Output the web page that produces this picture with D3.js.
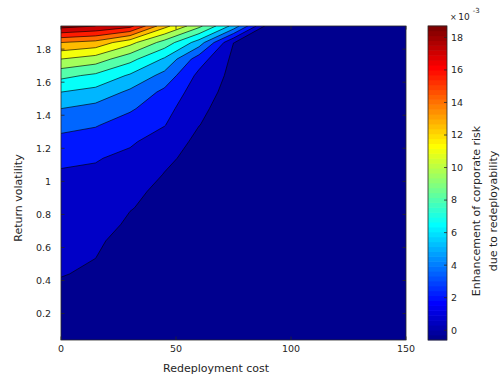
<!DOCTYPE html>
<html><head><meta charset="utf-8">
<script src="https://cdn.jsdelivr.net/npm/d3@7"></script>
<style>body{margin:0;background:#fff} svg{display:block;font-family:"DejaVu Sans",sans-serif}</style>
</head><body><svg id="c" width="500" height="380"></svg>
<script>
// ---- data (enhancement of corporate risk, units of 1e-3) ----
const costs = [0, 15, 30, 45, 60, 75, 90, 105, 120, 135, 150];
const vols = [0.04, 0.14, 0.24, 0.34, 0.44, 0.54, 0.64, 0.74, 0.84, 0.94, 1.04, 1.14, 1.24, 1.34, 1.44, 1.54, 1.64, 1.74, 1.84, 1.94];
// one row per volatility (bottom to top), one value per cost
const risk004 = [-0.6, -0.6, -0.6, -0.6, -0.6, -0.6, -0.6, -0.6, -0.6, -0.6, -0.6];
const risk014 = [-0.5, -0.5, -0.55, -0.55, -0.6, -0.6, -0.6, -0.6, -0.6, -0.6, -0.6];
const risk024 = [-0.35, -0.4, -0.5, -0.55, -0.55, -0.6, -0.6, -0.6, -0.6, -0.6, -0.6];
const risk034 = [-0.2, -0.25, -0.5, -0.5, -0.55, -0.6, -0.6, -0.6, -0.6, -0.6, -0.6];
const risk044 = [0.05, -0.15, -0.5, -0.5, -0.55, -0.6, -0.6, -0.6, -0.6, -0.6, -0.6];
const risk054 = [0.3, 0.01, -0.5, -0.5, -0.5, -0.55, -0.55, -0.6, -0.6, -0.6, -0.6];
const risk064 = [0.55, 0.2, -0.47, -0.45, -0.5, -0.55, -0.55, -0.6, -0.6, -0.6, -0.6];
const risk074 = [0.75, 0.5, -0.18, -0.45, -0.5, -0.55, -0.55, -0.6, -0.6, -0.6, -0.6];
const risk084 = [0.95, 0.75, 0.05, -0.33, -0.5, -0.55, -0.5, -0.55, -0.6, -0.6, -0.6];
const risk094 = [1.15, 1.0, 0.3, -0.3, -0.45, -0.55, -0.5, -0.55, -0.6, -0.6, -0.6];
const risk104 = [1.35, 1.25, 0.75, -0.05, -0.45, -0.55, -0.5, -0.55, -0.55, -0.6, -0.6];
const risk114 = [1.75, 1.6, 1.15, 0.25, -0.43, -0.55, -0.5, -0.55, -0.55, -0.6, -0.6];
const risk124 = [2.6, 2.3, 1.7, 0.8, -0.34, -0.55, -0.45, -0.5, -0.55, -0.55, -0.6];
const risk134 = [3.4, 3.1, 2.3, 1.55, 0.02, -0.58, -0.45, -0.5, -0.55, -0.55, -0.6];
const risk144 = [4.5, 4.0, 3.2, 2.05, 0.25, -0.58, -0.45, -0.5, -0.5, -0.55, -0.55];
const risk154 = [6.0, 5.5, 4.2, 2.65, 0.7, -0.58, -0.4, -0.5, -0.5, -0.55, -0.55];
const risk164 = [7.9, 7.2, 5.8, 4.0, 1.1, -0.4, -0.4, -0.45, -0.5, -0.5, -0.55];
const risk174 = [10.5, 9.8, 8.0, 5.8, 2.2, -0.34, -0.35, -0.45, -0.5, -0.5, -0.55];
const risk184 = [13.5, 13.0, 11.0, 8.4, 5.3, 0.01, -0.3, -0.45, -0.5, -0.5, -0.5];
const risk194 = [18.6, 18.0, 17.0, 12.5, 9.4, 5.5, -0.6, -0.5, -0.5, -0.5, -0.5];
const levels = [0, 1.5, 3, 4.5, 6, 7.5, 9, 10.5, 12, 13.5, 15, 16.5, 18];
const colorRange = [-0.6, 18.7];
const xTicks = [0, 50, 100, 150];
const yTicks = [0.2, 0.4, 0.6, 0.8, 1, 1.2, 1.4, 1.6, 1.8];
const cbTicks = [0, 2, 4, 6, 8, 10, 12, 14, 16, 18];

const rows = [risk004, risk014, risk024, risk034, risk044, risk054, risk064, risk074, risk084, risk094,
  risk104, risk114, risk124, risk134, risk144, risk154, risk164, risk174, risk184, risk194];

// ---- layout ----
const P = {l: 61, r: 406, t: 26, b: 340};
const CB = {l: 428, r: 447};
const svg = d3.select('#c');
const axisCol = '#262626';

const x = d3.scaleLinear().domain([costs[0], costs[costs.length - 1]]).range([P.l, P.r]);
const y = d3.scaleLinear().domain([vols[0], vols[vols.length - 1]]).range([P.b, P.t]);

function jet(f) {
  const c = t => Math.max(0, Math.min(1, t));
  return d3.rgb(255 * c(Math.min(4 * f - 1.5, -4 * f + 4.5)),
                255 * c(Math.min(4 * f - 0.5, -4 * f + 3.5)),
                255 * c(Math.min(4 * f + 0.5, -4 * f + 2.5))).formatHex();
}
const frac = d3.scaleLinear().domain(colorRange).range([0, 1]);
const colorOf = v => jet(frac(v));

// ---- contours ----
const nx = costs.length, ny = vols.length;
const values = rows.flat();
const dxStep = costs[1] - costs[0], dyStep = vols[1] - vols[0];
const proj = d3.geoTransform({
  point(gx, gy) {
    this.stream.point(x(costs[0] + (gx - 0.5) * dxStep), y(vols[0] + (gy - 0.5) * dyStep));
  }
});
const path = d3.geoPath(proj);
const contours = d3.contours().size([nx, ny]).thresholds(levels)(values);

const defs = svg.append('defs');
defs.append('clipPath').attr('id', 'plotclip').append('rect')
  .attr('x', P.l).attr('y', P.t).attr('width', P.r - P.l).attr('height', P.b - P.t);

const g = svg.append('g').attr('clip-path', 'url(#plotclip)');
g.append('rect').attr('x', P.l).attr('y', P.t).attr('width', P.r - P.l).attr('height', P.b - P.t)
  .attr('fill', jet(1 / 64));
g.selectAll('path.band').data(contours).join('path').attr('class', 'band')
  .attr('d', path)
  .attr('fill', (d, i) => colorOf((d.value + (i + 1 < levels.length ? levels[i + 1] : colorRange[1])) / 2))
  .attr('stroke', 'none');
g.selectAll('path.line').data(contours).join('path').attr('class', 'line')
  .attr('d', path).attr('fill', 'none').attr('stroke', '#000').attr('stroke-width', 0.7)
  .attr('stroke-opacity', 0.9);

// ---- axes ----
svg.append('rect').attr('x', P.l).attr('y', P.t).attr('width', P.r - P.l).attr('height', P.b - P.t)
  .attr('fill', 'none').attr('stroke', axisCol).attr('stroke-width', 0.8);

const tl = 3.5;
xTicks.forEach(t => {
  svg.append('line').attr('x1', x(t)).attr('x2', x(t)).attr('y1', P.b).attr('y2', P.b - tl)
    .attr('stroke', axisCol).attr('stroke-width', 0.8);
  svg.append('line').attr('x1', x(t)).attr('x2', x(t)).attr('y1', P.t).attr('y2', P.t + tl)
    .attr('stroke', axisCol).attr('stroke-width', 0.8);
  svg.append('text').attr('x', x(t)).attr('y', 352).attr('text-anchor', 'middle')
    .attr('font-size', 9.5).attr('fill', axisCol).text(d3.format('')(t));
});
yTicks.forEach(t => {
  svg.append('line').attr('x1', P.l).attr('x2', P.l + tl).attr('y1', y(t)).attr('y2', y(t))
    .attr('stroke', axisCol).attr('stroke-width', 0.8);
  svg.append('line').attr('x1', P.r).attr('x2', P.r - tl).attr('y1', y(t)).attr('y2', y(t))
    .attr('stroke', axisCol).attr('stroke-width', 0.8);
  svg.append('text').attr('x', 51).attr('y', y(t) + 3.4).attr('text-anchor', 'end')
    .attr('font-size', 9.5).attr('fill', axisCol).text(String(t));
});
svg.append('text').attr('x', 216).attr('y', 372).attr('text-anchor', 'middle')
  .attr('font-size', 11).attr('fill', axisCol).text('Redeployment cost');
svg.append('text').attr('transform', 'translate(22,198) rotate(-90)').attr('text-anchor', 'middle')
  .attr('font-size', 11).attr('fill', axisCol).text('Return volatility');

// ---- colorbar ----
const cy = d3.scaleLinear().domain(colorRange).range([P.b, P.t]);
const nSteps = 64;
const stepVals = d3.range(nSteps).map(i => colorRange[0] + (colorRange[1] - colorRange[0]) * i / nSteps);
const stepH = (P.b - P.t) / nSteps;
svg.append('g').selectAll('rect').data(stepVals).join('rect')
  .attr('x', CB.l).attr('width', CB.r - CB.l)
  .attr('y', d => cy(d) - stepH - 0.3).attr('height', stepH + 0.6)
  .attr('fill', (d, i) => jet((i + 1) / nSteps));
svg.append('rect').attr('x', CB.l).attr('y', P.t).attr('width', CB.r - CB.l).attr('height', P.b - P.t)
  .attr('fill', 'none').attr('stroke', axisCol).attr('stroke-width', 0.8);
cbTicks.forEach(t => {
  svg.append('line').attr('x1', CB.r).attr('x2', CB.r - 3).attr('y1', cy(t)).attr('y2', cy(t))
    .attr('stroke', axisCol).attr('stroke-width', 0.8);
  svg.append('text').attr('x', 451).attr('y', cy(t) + 3.4).attr('font-size', 9.5)
    .attr('fill', axisCol).text(String(t));
});
const ex = svg.append('text').attr('x', 450).attr('y', 20).attr('fill', axisCol);
ex.append('tspan').attr('font-size', 8).text('\u00d7');
ex.append('tspan').attr('font-size', 9).attr('dx', 1.5).text('10');
ex.append('tspan').attr('font-size', 7).attr('dx', 3).attr('dy', -7).text('-3');

svg.append('text').attr('transform', 'translate(480,211) rotate(-90)').attr('text-anchor', 'middle')
  .attr('font-size', 11).attr('fill', axisCol).text('Enhancement of corporate risk');
svg.append('text').attr('transform', 'translate(497,211) rotate(-90)').attr('text-anchor', 'middle')
  .attr('font-size', 11).attr('fill', axisCol).text('due to redeployability');
</script></body></html>
